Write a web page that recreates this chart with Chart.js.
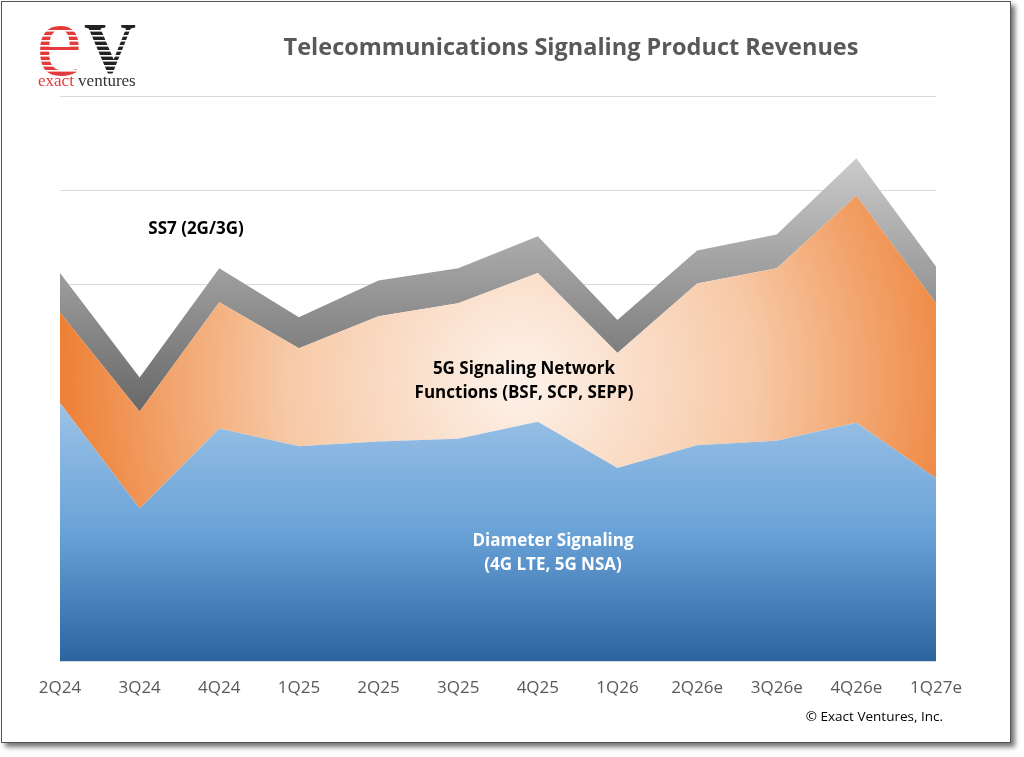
<!DOCTYPE html>
<html lang="en">
  <head>
    <meta charset="utf-8">
    <title>Telecommunications Signaling Product Revenues</title>
    <script src="https://cdn.jsdelivr.net/npm/chart.js@4.4.1/dist/chart.umd.min.js"></script>
    <style>
      body { margin: 0; background: #fff; }
      #frame { position: absolute; left: 1px; top: 1px; width: 1008px; height: 740px;
               border: 1px solid #555; box-shadow: 4px 4px 5px rgba(0,0,0,0.55); background: #fff; }
      #wrap { position: absolute; left: 0; top: 0; width: 1024px; height: 757px; }
    </style>
  </head>
  <body>
    <div id="frame"></div>
    <div id="wrap"><canvas id="chart" width="1024" height="757"></canvas></div>
    <script>
      const quarters = ['2Q24', '3Q24', '4Q24', '1Q25', '2Q25', '3Q25', '4Q25', '1Q26', '2Q26e', '3Q26e', '4Q26e', '1Q27e'];
      const diameter = [27.4, 16.2, 24.7, 22.8, 23.3, 23.6, 25.4, 20.5, 22.9, 23.4, 25.3, 19.4];
      const fiveG = [9.6, 10.3, 13.4, 10.4, 13.3, 14.4, 15.8, 12.2, 17.2, 18.3, 24.1, 18.6];
      const ss7 = [4.2, 3.6, 3.6, 3.3, 3.8, 3.7, 3.9, 3.5, 3.5, 3.6, 4.0, 3.9];

      const FONT = '"Open Sans", sans-serif';

      function blueFill(c) {
        const area = c.chart.chartArea;
        if (!area) return '#5b9bd5';
        const g = c.chart.ctx.createLinearGradient(0, 400, 0, area.bottom);
        g.addColorStop(0, '#9dc3e6');
        g.addColorStop(0.5, '#6aa3d8');
        g.addColorStop(1, '#2c64a0');
        return g;
      }
      function orangeFill(c) {
        const area = c.chart.chartArea;
        if (!area) return '#ed7d31';
        const g = c.chart.ctx.createRadialGradient(520, 380, 0, 520, 380, 470);
        g.addColorStop(0, '#fdf2ea');
        g.addColorStop(0.5, '#f7c9a6');
        g.addColorStop(1, '#ed7d31');
        return g;
      }
      function grayFill(c) {
        const area = c.chart.chartArea;
        if (!area) return '#999';
        const g = c.chart.ctx.createLinearGradient(0, 155, 0, 410);
        g.addColorStop(0, '#cccccc');
        g.addColorStop(1, '#686868');
        return g;
      }

      // title, series notes, copyright and logo
      const textPlugin = {
        id: 'texts',
        afterDraw(chart) {
          const ctx = chart.ctx;
          ctx.save();
          ctx.textAlign = 'center';
          ctx.textBaseline = 'middle';
          ctx.fillStyle = '#595959';
          ctx.font = 'bold 23.5px ' + FONT;
          ctx.fillText('Telecommunications Signaling Product Revenues', 571, 48);

          ctx.fillStyle = '#000';
          ctx.font = 'bold 17px ' + FONT;
          ctx.fillText('SS7 (2G/3G)', 196, 229);
          ctx.fillText('5G Signaling Network', 524, 369);
          ctx.fillText('Functions (BSF, SCP, SEPP)', 524, 393);
          ctx.fillStyle = '#fff';
          ctx.fillText('Diameter Signaling', 553, 541);
          ctx.fillText('(4G LTE, 5G NSA)', 553, 565);

          ctx.textAlign = 'right';
          ctx.fillStyle = '#000';
          ctx.font = '13.5px ' + FONT;
          ctx.fillText('\u00a9 Exact Ventures, Inc.', 943, 717);

          // logo
          ctx.textAlign = 'left';
          ctx.textBaseline = 'alphabetic';
          ctx.fillStyle = '#e53a3a';
          ctx.font = '104px "Liberation Serif", serif';
          ctx.fillText('e', 36, 75);
          ctx.fillStyle = '#222';
          ctx.font = 'bold 72px "Liberation Serif", serif';
          ctx.fillText('V', 84, 72);
          ctx.fillStyle = '#fff';
          for (let y = 30; y < 75; y += 5) ctx.fillRect(36, y, 106, 1.6);
          ctx.font = '17px "Liberation Serif", serif';
          ctx.fillStyle = '#e53a3a';
          ctx.fillText('exact', 38, 86);
          const w = ctx.measureText('exact ').width;
          ctx.fillStyle = '#333';
          ctx.fillText('ventures', 38 + w, 86);
          ctx.restore();
        }
      };

      new Chart(document.getElementById('chart'), {
        type: 'line',
        data: {
          labels: quarters,
          datasets: [
            { label: 'Diameter Signaling', data: diameter, fill: 'origin', backgroundColor: blueFill },
            { label: '5G Signaling Network Functions', data: fiveG, fill: '-1', backgroundColor: orangeFill },
            { label: 'SS7 (2G/3G)', data: ss7, fill: '-1', backgroundColor: grayFill }
          ]
        },
        options: {
          responsive: false,
          animation: false,
          layout: { padding: { left: 60, right: 88, top: 96, bottom: 0 } },
          elements: {
            point: { radius: 0 },
            line: { borderWidth: 0, tension: 0 }
          },
          plugins: {
            legend: { display: false },
            tooltip: { enabled: false }
          },
          scales: {
            x: {
              offset: false,
              grid: { display: false, drawTicks: false },
              border: { display: false },
              ticks: { color: '#595959', font: { family: FONT, size: 17 }, padding: 17, maxRotation: 0, autoSkip: false },
              afterFit: s => { s.height = 96; }
            },
            y: {
              stacked: true,
              min: 0,
              max: 60,
              ticks: { display: false, stepSize: 10 },
              grid: { color: '#d9d9d9', drawTicks: false },
              border: { display: false },
              afterFit: s => { s.width = 0; }
            }
          }
        },
        plugins: [textPlugin]
      });
    </script>
  </body>
</html>
